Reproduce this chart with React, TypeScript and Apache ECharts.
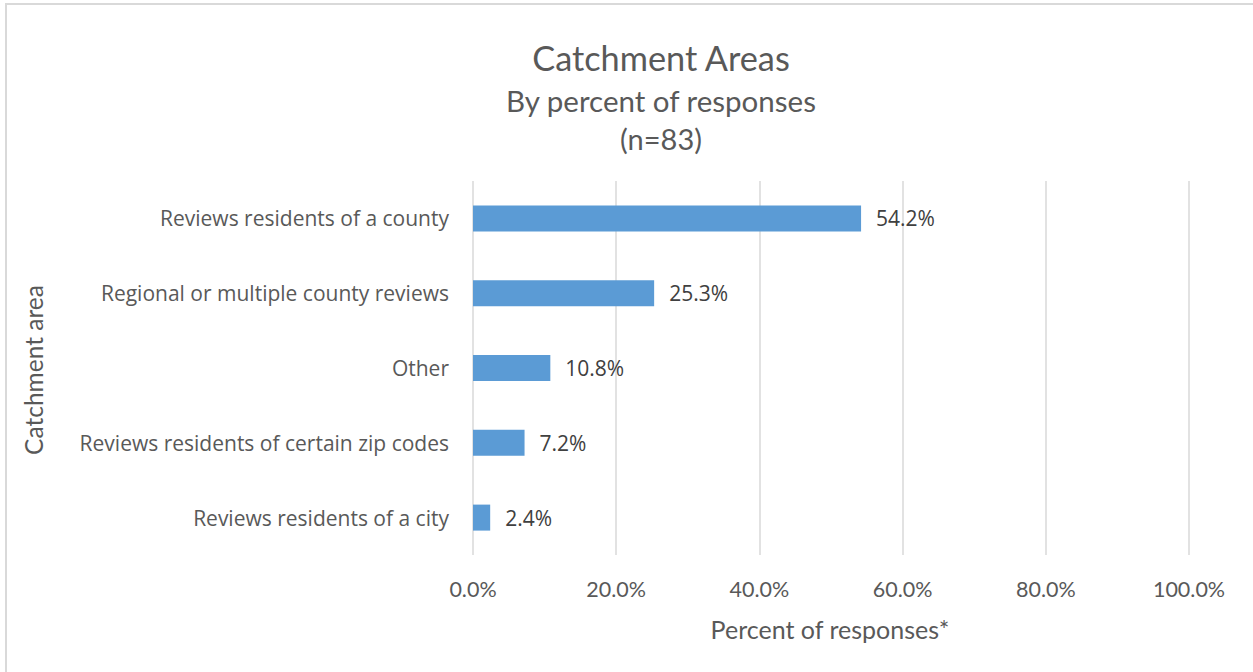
import React, { useEffect, useRef } from "react";
import * as echarts from "echarts";

const categories = [
  "Reviews residents of a county",
  "Regional or multiple county reviews",
  "Other",
  "Reviews residents of certain zip codes",
  "Reviews residents of a city",
];
const values = [54.2, 25.3, 10.8, 7.2, 2.4];
const xTicks = [0, 20, 40, 60, 80, 100];

const FONT = "Lato, 'Open Sans', sans-serif";
const FONT2 = "'Open Sans', Lato, sans-serif";

export default function App() {
  const ref = useRef<HTMLDivElement>(null);
  useEffect(() => {
    if (!ref.current) return;
    const chart = echarts.init(ref.current, null, { renderer: "svg" });
    chart.setOption({
      animation: false,
      backgroundColor: "#ffffff",
      textStyle: { fontFamily: FONT },
      grid: { left: 473, right: 64, top: 181, bottom: 117, containLabel: false },
      xAxis: {
        type: "value",
        min: xTicks[0],
        max: xTicks[xTicks.length - 1],
        interval: 20,
        axisLine: { show: false },
        axisTick: { show: false },
        splitLine: { show: true, lineStyle: { color: "#d9d9d9", width: 1.5 } },
        axisLabel: {
          color: "#595959",
          fontSize: 21.5,
          fontFamily: FONT,
          margin: 23,
          formatter: (v: number) => v.toFixed(1) + "%",
        },
      },
      yAxis: {
        type: "category",
        data: categories,
        inverse: true,
        axisLine: { show: false },
        axisTick: { show: false },
        axisLabel: { color: "#595959", fontSize: 21, fontFamily: FONT2, margin: 24 },
      },
      series: [
        {
          type: "bar",
          data: values,
          barWidth: 26,
          itemStyle: { color: "#5b9bd5" },
          label: {
            show: true,
            position: "right",
            distance: 15,
            color: "#404040",
            fontSize: 21,
            fontFamily: FONT2,
            formatter: (p: any) => Number(p.value).toFixed(1) + "%",
          },
        },
      ],
      graphic: [
        {
          type: "rect",
          shape: { x: 6, y: 4, width: 1400, height: 800 },
          style: { fill: "none", stroke: "#d9d9d9", lineWidth: 2 },
          silent: true,
        },
        {
          type: "text",
          x: 661,
          y: 57,
          style: { text: "Catchment Areas", fontSize: 34.3, fill: "#595959", fontFamily: FONT, align: "center", verticalAlign: "middle" },
        },
        {
          type: "text",
          x: 661,
          y: 100,
          style: { text: "By percent of responses", fontSize: 29.5, fill: "#595959", fontFamily: FONT, align: "center", verticalAlign: "middle" },
        },
        {
          type: "text",
          x: 661,
          y: 138,
          style: { text: "(n=83)", fontSize: 29, fill: "#595959", fontFamily: FONT, align: "center", verticalAlign: "middle" },
        },
        {
          type: "text",
          x: 830,
          y: 629,
          style: { text: "Percent of responses*", fontSize: 25, fill: "#595959", fontFamily: FONT, align: "center", verticalAlign: "middle" },
        },
        {
          type: "text",
          x: 33,
          y: 370,
          rotation: Math.PI / 2,
          style: { text: "Catchment area", fontSize: 24.5, fill: "#595959", fontFamily: FONT, align: "center", verticalAlign: "middle" },
        },
      ],
    });
    return () => chart.dispose();
  }, []);
  return (
    <div
      ref={ref}
      style={{ position: "fixed", left: 0, top: 0, width: 1253, height: 672 }}
    />
  );
}
